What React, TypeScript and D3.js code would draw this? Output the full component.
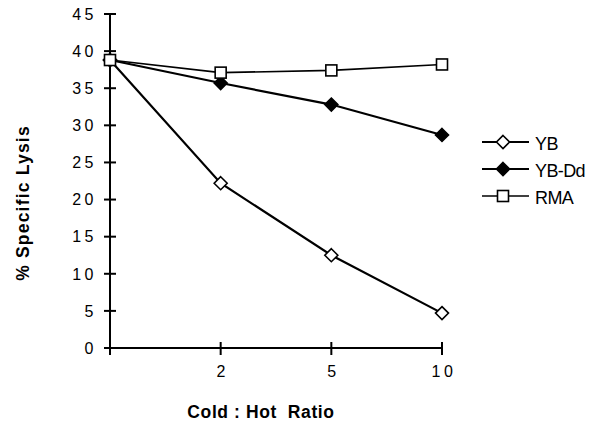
import * as d3 from "d3";
import React from "react";

const categories = ["", "2", "5", "10"];
const yTicks = [0, 5, 10, 15, 20, 25, 30, 35, 40, 45];

const seriesNames = ["YB", "YB-Dd", "RMA"];
const ybValues = [38.8, 22.2, 12.5, 4.7];
const ybDdValues = [38.8, 35.7, 32.8, 28.7];
const rmaValues = [38.8, 37.1, 37.4, 38.2];

const FONT = "'Liberation Sans', Arial, Helvetica, sans-serif";

const diamond = (cx: number, cy: number, r: number) =>
  `M${cx},${cy - r}L${cx + r},${cy}L${cx},${cy + r}L${cx - r},${cy}Z`;

const Marker = ({ kind, x, y }: { kind: string; x: number; y: number }) => {
  if (kind === "RMA") {
    return <rect x={x - 5.5} y={y - 5.5} width={11} height={11} fill="white" stroke="black" strokeWidth={1.6} />;
  }
  return (
    <path
      d={diamond(x, y, 6.5)}
      fill={kind === "YB" ? "white" : "black"}
      stroke="black"
      strokeWidth={1.6}
    />
  );
};

export default function App() {
  const width = 594;
  const height = 424;

  const x = d3.scalePoint<string>().domain(categories).range([110, 442]);
  const y = d3.scaleLinear().domain([0, 45]).range([348, 14]);

  const series = [
    { name: seriesNames[0], values: ybValues, sw: 2.2 },
    { name: seriesNames[1], values: ybDdValues, sw: 2.2 },
    { name: seriesNames[2], values: rmaValues, sw: 1.6 },
  ];

  const line = d3
    .line<number>()
    .x((_, i) => x(categories[i])!)
    .y((d) => y(d));

  return (
    <svg width={width} height={height} style={{ position: "absolute", left: 0, top: 0, background: "white" }}>
      <rect width={width} height={height} fill="white" />
      {/* axes */}
      <line x1={110} x2={110} y1={y(45)} y2={y(0)} stroke="black" strokeWidth={2} />
      <line x1={110} x2={x("10")} y1={y(0)} y2={y(0)} stroke="black" strokeWidth={2} />
      {yTicks.map((t) => (
        <g key={t}>
          <line x1={104} x2={116} y1={y(t)} y2={y(t)} stroke="black" strokeWidth={2} />
          <text x={97} y={y(t)} dy="0.36em" textAnchor="end" fontFamily={FONT} fontSize={16} letterSpacing={3.5}>
            {t}
          </text>
        </g>
      ))}
      {categories.map((c) => (
        <g key={c || "first"}>
          <line x1={x(c)} x2={x(c)} y1={y(0) - 6} y2={y(0) + 7} stroke="black" strokeWidth={2} />
          <text x={x(c)! + 2} y={377} textAnchor="middle" fontFamily={FONT} fontSize={16} letterSpacing={3.5}>
            {c}
          </text>
        </g>
      ))}
      <text
        transform="translate(29,203) rotate(-90)"
        textAnchor="middle"
        fontFamily={FONT}
        fontSize={17.5}
        fontWeight="bold"
        letterSpacing={1.2}
      >
        % Specific Lysis
      </text>
      <text
        x={261}
        y={418}
        textAnchor="middle"
        fontFamily={FONT}
        fontSize={17.5}
        fontWeight="bold"
        letterSpacing={0.6}
        xmlSpace="preserve"
      >
        Cold : Hot  Ratio
      </text>

      {/* series */}
      {series.map((s) => (
        <g key={s.name}>
          <path d={line(s.values)!} fill="none" stroke="black" strokeWidth={s.sw} />
          {s.values.map((v, i) => (
            <Marker key={i} kind={s.name} x={x(categories[i])!} y={y(v)} />
          ))}
        </g>
      ))}

      {/* legend */}
      {series.map((s, i) => {
        const ly = 142 + i * 27;
        return (
          <g key={s.name}>
            <line x1={482} x2={529} y1={ly} y2={ly} stroke="black" strokeWidth={s.sw} />
            <Marker kind={s.name} x={503} y={ly} />
            <text x={535} y={ly + 2} dy="0.36em" fontFamily={FONT} fontSize={18} letterSpacing={-0.6}>
              {s.name}
            </text>
          </g>
        );
      })}
    </svg>
  );
}
